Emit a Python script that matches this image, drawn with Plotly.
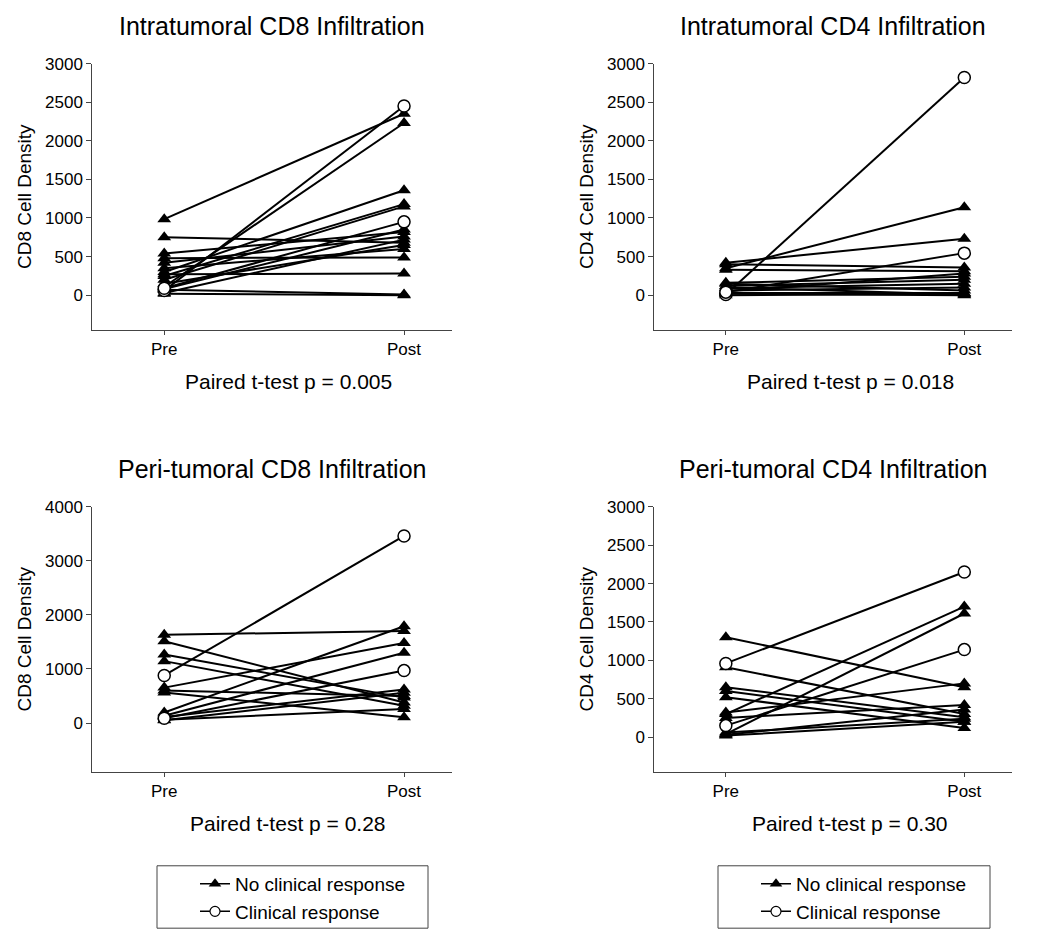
import plotly.graph_objects as go

W, H = 1050, 939
OFF = 8  # page body margin of the written html

# ---------------- data ----------------
stages = ["Pre", "Post"]

# Intratumoral CD8
p1_nr_pre  = [985, 110, 750, 480, 540, 300, 250, 200, 420, 30, 150, 270, 70, 20, 350, 80]
p1_nr_post = [2350, 2230, 680, 490, 820, 1360, 1180, 1150, 760, 720, 650, 280, 10, 0, 600, 850]
p1_cr_pre  = [60, 90]
p1_cr_post = [2450, 950]

# Intratumoral CD4
p2_nr_pre  = [350, 420, 400, 330, 160, 120, 90, 60, 150, 30, 100, 20, 50, 0]
p2_nr_post = [1140, 730, 360, 310, 240, 200, 150, 100, 60, 30, 10, 0, 280, 20]
p2_cr_pre  = [10, 40]
p2_cr_post = [2820, 545]

# Peri-tumoral CD8
p3_nr_pre  = [1633, 1512, 1267, 1145, 655, 563, 196, 136, 110, 60, 50, 600]
p3_nr_post = [1700, 380, 470, 320, 1480, 105, 1790, 1300, 620, 260, 560, 500]
p3_cr_pre  = [880, 90]
p3_cr_post = [3460, 970]

# Peri-tumoral CD4
p4_nr_pre  = [1300, 910, 300, 40, 320, 650, 600, 520, 250, 20, 60, 30]
p4_nr_post = [650, 300, 1700, 1610, 700, 260, 200, 120, 420, 200, 240, 360]
p4_cr_pre  = [960, 150]
p4_cr_post = [2150, 1140]

titles = ["Intratumoral CD8 Infiltration", "Intratumoral CD4 Infiltration",
          "Peri-tumoral CD8 Infiltration", "Peri-tumoral CD4 Infiltration"]
ylabels = ["CD8 Cell Density", "CD4 Cell Density", "CD8 Cell Density", "CD4 Cell Density"]
pvals = ["Paired t-test p = 0.005", "Paired t-test p = 0.018",
         "Paired t-test p = 0.28", "Paired t-test p = 0.30"]
yranges = [[-450, 3000], [-450, 3000], [-900, 4000], [-450, 3000]]
ytickvals = [[0, 500, 1000, 1500, 2000, 2500, 3000]] * 2 + \
            [[0, 1000, 2000, 3000, 4000]] + [[0, 500, 1000, 1500, 2000, 2500, 3000]]
legend_labels = ["No clinical response", "Clinical response"]

panels = [
    (p1_nr_pre, p1_nr_post, p1_cr_pre, p1_cr_post),
    (p2_nr_pre, p2_nr_post, p2_cr_pre, p2_cr_post),
    (p3_nr_pre, p3_nr_post, p3_cr_pre, p3_cr_post),
    (p4_nr_pre, p4_nr_post, p4_cr_pre, p4_cr_post),
]

# ---------------- layout geometry (screen pixels) ----------------
boxes = [  # x0, x1, ytop, ybottom
    (92.3, 452, 55, 324),
    (654.3, 1012, 55, 324),
    (92.3, 452, 502.5, 770),
    (654.3, 1012, 502.5, 770),
]


def px(x):
    return (x - OFF) / W


def py(y):
    return 1 - (y - OFF) / H


FONT = "Arial, Liberation Sans, sans-serif"
fig = go.Figure()


def pairs(pre, post):
    xs, ys = [], []
    for a, b in zip(pre, post):
        xs += [stages[0], stages[1], None]
        ys += [a, b, None]
    return xs, ys


annotations = []
for i, (nr_pre, nr_post, cr_pre, cr_post) in enumerate(panels):
    ax = "" if i == 0 else str(i + 1)
    xs, ys = pairs(nr_pre, nr_post)
    fig.add_trace(go.Scatter(
        x=xs, y=ys, mode="lines+markers", xaxis="x" + ax, yaxis="y" + ax,
        line=dict(color="black", width=2),
        marker=dict(symbol="triangle-up", size=12, color="black"),
        showlegend=False, hoverinfo="skip", cliponaxis=False))
    xs, ys = pairs(cr_pre, cr_post)
    fig.add_trace(go.Scatter(
        x=xs, y=ys, mode="lines+markers", xaxis="x" + ax, yaxis="y" + ax,
        line=dict(color="black", width=2),
        marker=dict(symbol="circle", size=12, color="white",
                    line=dict(color="black", width=1.5)),
        showlegend=False, hoverinfo="skip", cliponaxis=False))

    x0, x1, yt, yb = boxes[i]
    fig.update_layout(**{
        "xaxis" + ax: dict(
            domain=[px(x0), px(x1)], anchor="y" + ax, type="category",
            range=[-0.3, 1.2], showline=True, linecolor="#444", linewidth=1,
            ticks="outside", ticklen=4, tickcolor="#444", showgrid=False,
            zeroline=False, tickfont=dict(family=FONT, size=17, color="black")),
        "yaxis" + ax: dict(
            domain=[py(yb), py(yt)], anchor="x" + ax,
            range=yranges[i], tickvals=ytickvals[i], showline=True,
            linecolor="#444", linewidth=1, ticks="outside", ticklen=5,
            tickcolor="#444", showgrid=False, zeroline=False,
            tickfont=dict(family=FONT, size=17, color="black")),
    })
    xc = (x0 + x1) / 2
    annotations.append(dict(text=titles[i], x=px(xc), y=py(yt - 38),
                            xref="paper", yref="paper", showarrow=False,
                            xanchor="center", yanchor="middle",
                            font=dict(family=FONT, size=25, color="black")))
    annotations.append(dict(text=ylabels[i], x=px(x0 - 68), y=py((yt + yb) / 2),
                            xref="paper", yref="paper", showarrow=False, textangle=-90,
                            xanchor="center", yanchor="middle",
                            font=dict(family=FONT, size=19, color="black")))
    annotations.append(dict(text=pvals[i], x=px(x0 + 196), y=py(yb + 52),
                            xref="paper", yref="paper", showarrow=False,
                            xanchor="center", yanchor="middle",
                            font=dict(family=FONT, size=21, color="black")))

# legend entries
for lg in ["legend", "legend2"]:
    fig.add_trace(go.Scatter(
        x=[None], y=[None], mode="lines+markers", name=legend_labels[0],
        line=dict(color="black", width=1.5),
        marker=dict(symbol="triangle-up", size=11, color="black"), legend=lg))
    fig.add_trace(go.Scatter(
        x=[None], y=[None], mode="lines+markers", name=legend_labels[1],
        line=dict(color="black", width=1.5),
        marker=dict(symbol="circle", size=10, color="white",
                    line=dict(color="black", width=1.2)), legend=lg))

legend_style = dict(font=dict(family=FONT, size=19, color="black"),
                    bgcolor="rgba(0,0,0,0)", borderwidth=0,
                    xanchor="left", yanchor="top", tracegroupgap=0,
                    xref="paper", yref="paper")

shapes = []
for (bx0, bx1), lg in zip([(157, 428), (718, 990)], ["legend", "legend2"]):
    shapes.append(dict(type="rect", xref="paper", yref="paper",
                       x0=px(bx0), x1=px(bx1), y0=py(928), y1=py(865),
                       line=dict(color="#444", width=1), fillcolor="white", layer="below"))
    fig.update_layout(**{lg: dict(x=px(bx0 + 38), y=py(864), **legend_style)})

fig.update_layout(
    width=W, height=H, margin=dict(l=0, r=0, t=0, b=0),
    paper_bgcolor="white", plot_bgcolor="white",
    annotations=annotations, shapes=shapes, showlegend=True,
)

fig.write_html("out.html")
